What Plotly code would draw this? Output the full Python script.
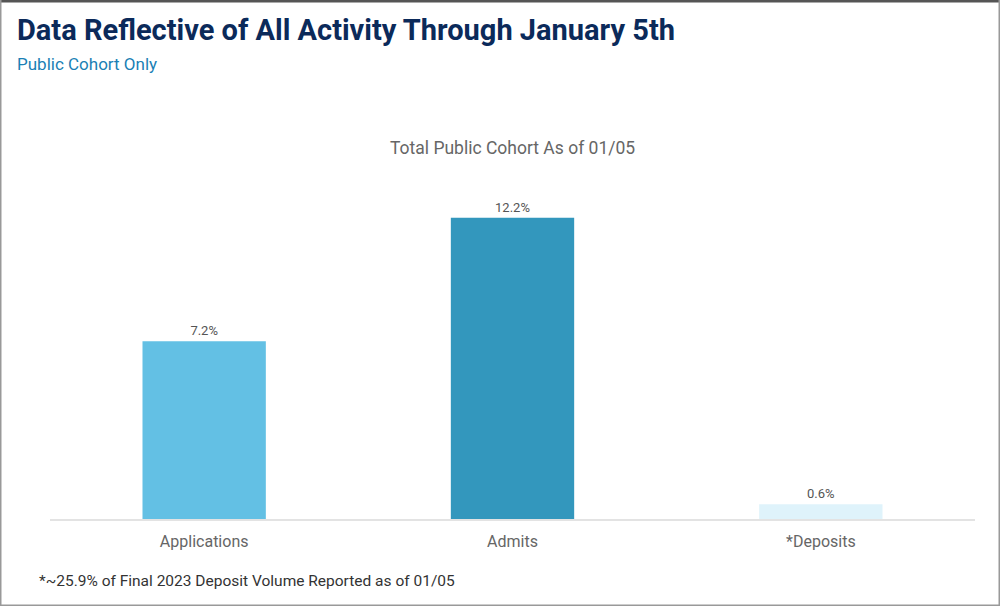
import plotly.graph_objects as go

categories = ["Applications", "Admits", "*Deposits"]
values = [7.2, 12.2, 0.6]
labels = ["7.2%", "12.2%", "0.6%"]
colors = ["#63c0e4", "#3397bd", "#dff3fb"]

W, H = 1000, 606
L, R, T, B = 50, 25, 170, 87
PW, PH = W - L - R, H - T - B

def px(x):
    return (x - L) / PW

def py(y):
    return (H - B - y) / PH

fig = go.Figure(go.Bar(
    x=categories, y=values, marker=dict(color=colors, line=dict(width=0)),
    text=labels, textposition="outside", cliponaxis=False,
    textfont=dict(family="Roboto", size=13, color="#555555"),
    width=0.4, hoverinfo="skip",
))

fig.update_layout(
    width=W, height=H, margin=dict(l=L, r=R, t=T, b=B),
    paper_bgcolor="white", plot_bgcolor="white", showlegend=False,
    xaxis=dict(showgrid=False, showline=True, linecolor="#e3e3e3", linewidth=2,
               ticks="", ticklabelstandoff=7,
               tickfont=dict(family="Roboto", size=16, color="#666666")),
    yaxis=dict(range=[0, PH / 24.7], visible=False, showgrid=False, zeroline=False),
    font=dict(family="Roboto"),
)

ann = [
    dict(text="<b>Data Reflective of All Activity Through January 5th</b>", x=px(15), y=py(30),
         xanchor="left", yanchor="middle", font=dict(size=29, color="#0b2a5a")),
    dict(text="Public Cohort Only", x=px(15), y=py(64), xanchor="left", yanchor="middle",
         font=dict(size=17, color="#1a7fb5")),
    dict(text="Total Public Cohort As of 01/05", x=0.5, y=py(148), xanchor="center", yanchor="middle",
         font=dict(size=17.5, color="#666666")),
    dict(text="*~25.9% of Final 2023 Deposit Volume Reported as of 01/05", x=px(37), y=py(581),
         xanchor="left", yanchor="middle", font=dict(size=15.5, color="#333333")),
]
for a in ann:
    a.update(xref="paper", yref="paper", showarrow=False)
fig.update_layout(annotations=ann)

shapes = [
    dict(type="line", x0=px(0), x1=px(W), y0=py(1), y1=py(1), line=dict(color="#555555", width=3)),
    dict(type="line", x0=px(0.5), x1=px(0.5), y0=py(0), y1=py(H), line=dict(color="#999999", width=2)),
    dict(type="line", x0=px(W - 0.5), x1=px(W - 0.5), y0=py(0), y1=py(H), line=dict(color="#999999", width=2)),
    dict(type="line", x0=px(0), x1=px(W), y0=py(H - 0.5), y1=py(H - 0.5), line=dict(color="#999999", width=2)),
]
for s in shapes:
    s.update(xref="paper", yref="paper")
fig.update_layout(shapes=shapes)

fig.write_html("out.html", config={"displayModeBar": False},
               post_script="document.body.style.margin='0';document.body.style.overflow='hidden';")
